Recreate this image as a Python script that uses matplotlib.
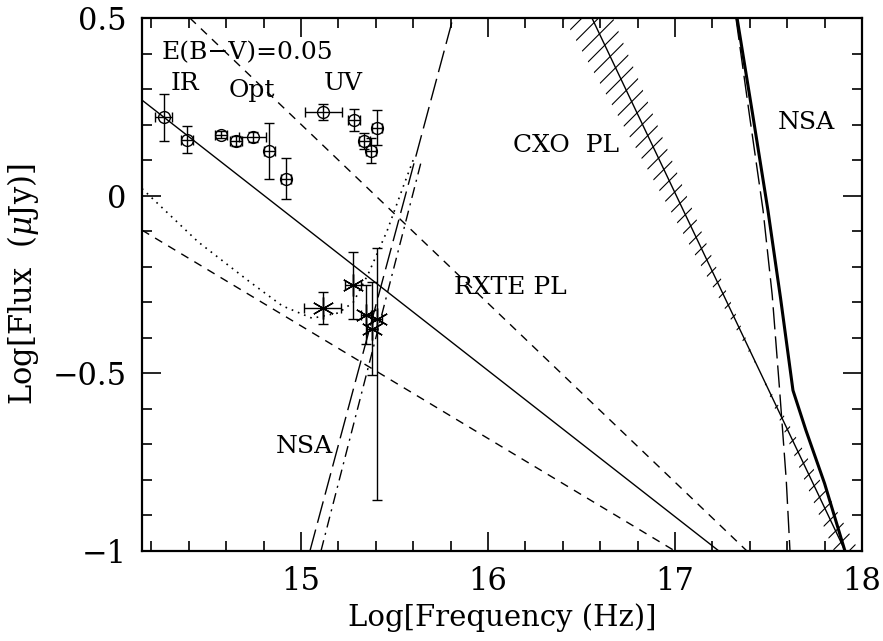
import numpy as np
import matplotlib
matplotlib.use("Agg")
import matplotlib.pyplot as plt
from matplotlib.ticker import MultipleLocator, FixedLocator

plt.rcParams['font.family'] = ['DejaVu Serif']
plt.rcParams['mathtext.fontset'] = 'dejavuserif'

# optical / IR / UV points (open circles)
opt_x = [14.267, 14.392, 14.572, 14.651, 14.742, 14.830, 14.918, 15.119, 15.283, 15.339, 15.374, 15.408]
opt_y = [0.221, 0.158, 0.172, 0.154, 0.164, 0.126, 0.048, 0.236, 0.213, 0.154, 0.126, 0.191]
opt_xerr = [0.045, 0.031, 0.033, 0.033, 0.073, 0.029, 0.027, 0.100, 0.032, 0.029, 0.027, 0.027]
opt_yerr = [0.066, 0.039, 0.011, 0.014, 0.014, 0.079, 0.058, 0.023, 0.031, 0.023, 0.035, 0.049]

# dereddened points (asterisks)
ast_x = [15.116, 15.280, 15.348, 15.378, 15.405]
ast_y = [-0.315, -0.252, -0.335, -0.374, -0.346]
ast_xerr = [0.100, 0.043, 0.027, 0.027, 0.027]
ast_yerr_lo = [0.045, 0.094, 0.083, 0.13, 0.51]
ast_yerr_hi = [0.045, 0.094, 0.083, 0.13, 0.20]

# RXTE power law and its bounds
rxte_x = [14.15, 17.235]
rxte_y = [0.269, -1.0]
rxte_hi_x = [14.406, 17.385]
rxte_hi_y = [0.5, -1.0]
rxte_lo_x = [14.15, 17.0]
rxte_lo_y = [-0.097, -1.0]

# CXO power law with error band
cxo_x = [16.556, 17.91]
cxo_y = [0.5, -1.0]
cxo_pivot = 17.45
cxo_slope = -1.11
cxo_dslope = 0.16

# NSA models
nsa_thick_x = [17.332, 17.415, 17.497, 17.565, 17.631, 17.70, 17.80, 17.909]
nsa_thick_y = [0.5, 0.23, -0.041, -0.29, -0.548, -0.66, -0.81, -1.0]
nsa_dash_x = [17.326, 17.40, 17.471, 17.52, 17.56, 17.595, 17.615]
nsa_dash_y = [0.5, 0.22, -0.041, -0.28, -0.55, -0.80, -1.0]
nsa_left_x = [15.048, 15.813]
nsa_left_y = [-1.0, 0.5]
nsa_dd_x = [15.107, 15.645]
nsa_dd_y = [-1.0, 0.10]

# dotted summed curve
dot_x = [14.15, 14.45, 14.72, 14.90, 15.06, 15.20, 15.28, 15.36, 15.46, 15.55, 15.60]
dot_y = [0.02, -0.13, -0.24, -0.31, -0.345, -0.33, -0.30, -0.22, -0.10, 0.03, 0.10]

fig = plt.figure(figsize=(8.83, 6.41), dpi=100)
ax = fig.add_axes([0.1608, 0.1404, 0.8154, 0.8315])

ax.plot(rxte_x, rxte_y, color='k', lw=1.0)
ax.plot(rxte_hi_x, rxte_hi_y, color='k', lw=1.0, dashes=(6, 5))
ax.plot(rxte_lo_x, rxte_lo_y, color='k', lw=1.0, dashes=(6, 5))

bx = np.linspace(16.2, 18.0, 50)
yp = cxo_y[0] + cxo_slope * (cxo_pivot - cxo_x[0])
b1 = yp + (cxo_slope - cxo_dslope) * (bx - cxo_pivot)
b2 = yp + (cxo_slope + cxo_dslope) * (bx - cxo_pivot)
plt.rcParams['hatch.linewidth'] = 0.8
ax.fill_between(bx, b1, b2, facecolor='none', edgecolor='k', hatch='//', linewidth=0, interpolate=True)
ax.plot(cxo_x, cxo_y, color='k', lw=1.0)

ax.plot(nsa_thick_x, nsa_thick_y, color='k', lw=2.2)
ax.plot(nsa_dash_x, nsa_dash_y, color='k', lw=1.0, dashes=(16, 5))
ax.plot(nsa_left_x, nsa_left_y, color='k', lw=1.0, dashes=(16, 5))
ax.plot(nsa_dd_x, nsa_dd_y, color='k', lw=1.0, dashes=(8, 4, 1.5, 4))
ax.plot(dot_x, dot_y, color='k', lw=1.2, dashes=(1, 3))

ax.errorbar(opt_x, opt_y, xerr=opt_xerr, yerr=opt_yerr, fmt='o', mfc='none', mec='k',
            ms=8.5, mew=1.0, ecolor='k', elinewidth=1.0, capsize=3.5, capthick=1.0)
ax.errorbar(ast_x, ast_y, xerr=ast_xerr, yerr=[ast_yerr_lo, ast_yerr_hi], fmt='none',
            ecolor='k', elinewidth=1.0, capsize=3.5, capthick=1.0)
ax.plot(ast_x, ast_y, linestyle='none', marker=(6, 2, 0), ms=16, mec='k', mew=1.0)

fs = 18
ax.text(14.257, 0.401, 'E(B\u2212V)=0.05', fontsize=fs, ha='left', va='center')
ax.text(14.38, 0.317, 'IR', fontsize=fs, ha='center', va='center')
ax.text(14.738, 0.297, 'Opt', fontsize=fs, ha='center', va='center')
ax.text(15.225, 0.317, 'UV', fontsize=fs, ha='center', va='center')
ax.text(16.42, 0.142, 'CXO  PL', fontsize=fs, ha='center', va='center')
ax.text(16.118, -0.258, 'RXTE PL', fontsize=fs, ha='center', va='center')
ax.text(17.70, 0.207, 'NSA', fontsize=fs, ha='center', va='center')
ax.text(15.016, -0.706, 'NSA', fontsize=fs, ha='center', va='center')

ax.set_xlim(14.15, 18.0)
ax.set_ylim(-1.0, 0.5)
ax.xaxis.set_major_locator(FixedLocator([15, 16, 17, 18]))
ax.xaxis.set_minor_locator(MultipleLocator(0.2))
ax.yaxis.set_major_locator(FixedLocator([-1, -0.5, 0, 0.5]))
ax.yaxis.set_minor_locator(MultipleLocator(0.1))
ax.set_xticklabels(['15', '16', '17', '18'])
ax.set_yticklabels(['\u22121', '\u22120.5', '0', '0.5'])
ax.tick_params(which='both', direction='in', top=True, right=True, labelsize=22, width=1.2)
ax.tick_params(which='major', length=14, pad=11)
ax.tick_params(which='minor', length=7)
for s in ax.spines.values():
    s.set_linewidth(1.6)

ax.set_xlabel('Log[Frequency (Hz)]', fontsize=21, labelpad=4)
ax.set_ylabel('Log[Flux  ($\\mu$Jy)]', fontsize=22, labelpad=8)

fig.savefig('out.png', dpi=100)
